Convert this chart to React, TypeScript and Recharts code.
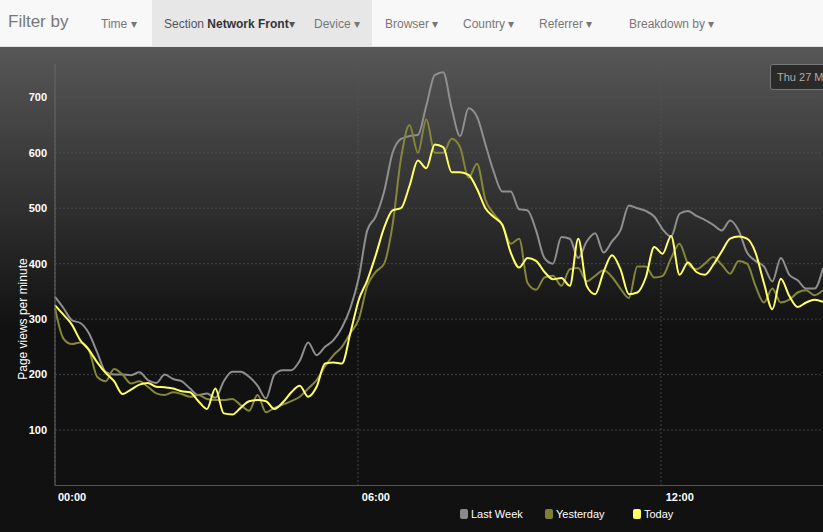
import { LineChart, Line, XAxis, YAxis, CartesianGrid } from "recharts";

// one point every 10 minutes, starting at 00:00
const lastWeek = [
  340, 320, 298, 293, 275, 240, 205, 200, 200, 199, 204, 190, 185, 200, 192, 188, 175, 163, 166, 158,
  188, 205, 205, 196, 180, 157, 200, 208, 208, 225, 258, 235, 250, 262, 285, 320, 375, 460, 485, 530,
  600, 625, 630, 632, 685, 740, 745, 680, 630, 680, 665, 615, 565, 530, 530, 498, 496, 460, 410, 400,
  448, 445, 410, 440, 455, 420, 440, 460, 505, 500, 495, 485, 462, 449, 490, 495, 486, 479, 470, 460,
  478, 460, 420, 405, 395, 368, 410, 380, 370, 355, 355, 392,
];
const yesterday = [
  320, 265, 255, 258, 245, 196, 188, 210, 200, 184, 188, 178, 166, 163, 168, 165, 160, 163, 156, 154,
  154, 156, 145, 135, 163, 132, 140, 146, 152, 160, 175, 190, 215, 235, 250, 275, 300, 360, 385, 400,
  470, 590, 650, 600, 660, 600, 600, 625, 610, 555, 580, 515, 490, 470, 436, 445, 365, 353, 375, 378,
  360, 390, 392, 368, 378, 388, 376, 355, 338, 395, 395, 375, 378, 410, 436, 400, 390, 400, 412, 398,
  382, 405, 400, 360, 330, 355, 330, 335, 348, 352, 343, 352,
];
const today = [
  325, 308, 290, 262, 245, 222, 203, 188, 165, 173, 182, 185, 178, 177, 175, 170, 168, 152, 138, 175,
  130, 128, 140, 152, 154, 152, 138, 150, 168, 180, 160, 178, 220, 222, 220, 275, 335, 370, 415, 465,
  496, 500, 540, 586, 572, 615, 610, 565, 565, 560, 535, 500, 484, 470, 420, 393, 410, 405, 385, 372,
  374, 360, 445, 360, 345, 385, 415, 390, 345, 348, 375, 430, 418, 450, 380, 402, 385, 380, 398, 422,
  445, 449, 445, 420, 365, 318, 373, 342, 322, 330, 335, 331,
];
const timeTicks = [0, 36, 72];
const timeLabels = ["00:00", "06:00", "12:00"];
const valueTicks = [0, 100, 200, 300, 400, 500, 600, 700];
const menuItems = [
  { label: "Time", x: 101 },
  { label: "Device", x: 314 },
  { label: "Browser", x: 385 },
  { label: "Country", x: 463 },
  { label: "Referrer", x: 539 },
  { label: "Breakdown by", x: 629 },
];
const legendItems = [
  { label: "Last Week", color: "#8a8a8a", x: 460 },
  { label: "Yesterday", color: "#7e7e35", x: 545 },
  { label: "Today", color: "#ffff66", x: 633 },
];

const data = today.map((v, i) => ({
  t: i,
  lastWeek: lastWeek[i],
  yesterday: yesterday[i],
  today: v,
}));

const font = "'Liberation Sans', Arial, sans-serif";

export default function App() {
  return (
    <div style={{ position: "absolute", left: 0, top: 0, width: 823, height: 532, overflow: "hidden", fontFamily: font }}>
      <div style={{ position: "absolute", left: 0, top: 0, width: 823, height: 46, background: "#f8f8f8", borderBottom: "1px solid #e2e2e2" }}>
        <div style={{ position: "absolute", left: 152, top: 0, width: 220, height: 46, background: "#e7e7e7" }} />
        <div style={{ position: "absolute", left: 8, top: 12, fontSize: 17, color: "#777" }}>Filter by</div>
        <div style={{ position: "absolute", left: 164, top: 17, fontSize: 12, color: "#555" }}>
          Section <b style={{ color: "#333" }}>Network Front</b>▾
        </div>
        {menuItems.map((m) => (
          <div key={m.label} style={{ position: "absolute", left: m.x, top: 17, fontSize: 12, color: "#777" }}>
            {m.label} ▾
          </div>
        ))}
      </div>
      <div style={{ position: "absolute", left: 0, top: 47, width: 823, height: 485, background: "linear-gradient(#575757 0%, #111 58%, #111 100%)" }}>
        <LineChart width={823} height={485} data={data} margin={{ top: 17, right: 0, left: 0, bottom: 0 }}>
          <CartesianGrid stroke="#555" strokeDasharray="2 2" strokeOpacity={0.7} verticalPoints={[55, 358, 661]} />
          <XAxis
            dataKey="t"
            type="number"
            domain={[0, 91]}
            ticks={timeTicks}
            tickFormatter={(v) => timeLabels[timeTicks.indexOf(v)]}
            height={46.5}
            stroke="#555"
            tickLine={false}
            tick={{ fill: "#fff", fontSize: 11, fontWeight: "bold", textAnchor: "start", dx: 3 }}
          />
          <YAxis
            domain={[0, 760]}
            ticks={valueTicks}
            tickFormatter={(v) => (v === 0 ? "" : String(v))}
            width={55}
            stroke="#666"
            tickLine={false}
            tick={{ fill: "#fff", fontSize: 11, fontWeight: "bold" }}
            label={{ value: "Page views per minute", angle: -90, position: "insideLeft", offset: 23, dy: 105, fill: "#fff", fontSize: 12 }}
          />
          <Line type="monotone" dataKey="lastWeek" stroke="#8f8f8f" strokeWidth={2} dot={false} isAnimationActive={false} />
          <Line type="monotone" dataKey="yesterday" stroke="#86863a" strokeWidth={2} dot={false} isAnimationActive={false} />
          <Line type="monotone" dataKey="today" stroke="#ffff66" strokeWidth={2} dot={false} isAnimationActive={false} />
        </LineChart>
        <div style={{ position: "absolute", left: 770, top: 17, width: 70, height: 24, background: "#2a2a2a", border: "1px solid #777", borderRadius: 3, color: "#aaa", fontSize: 11, lineHeight: "24px", paddingLeft: 6 }}>
          Thu 27 Mar
        </div>
        {legendItems.map((l) => (
          <div key={l.label} style={{ position: "absolute", left: l.x, top: 461, fontSize: 11, color: "#fff", display: "flex", alignItems: "center" }}>
            <span style={{ display: "inline-block", width: 8, height: 10, background: l.color, borderRadius: 2, marginRight: 3 }} />
            {l.label}
          </div>
        ))}
      </div>
    </div>
  );
}
